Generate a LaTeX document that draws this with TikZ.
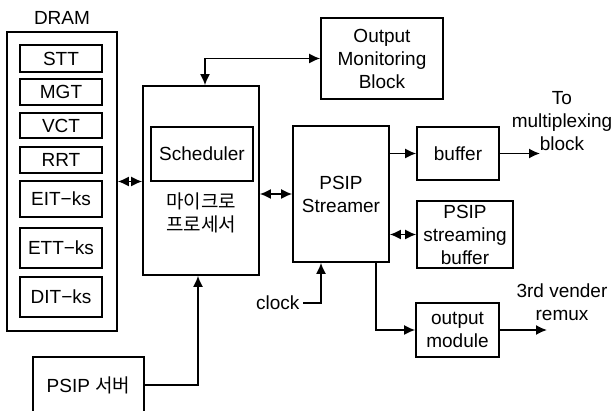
\documentclass[tikz,border=0pt]{standalone}
\usepackage{fontspec}
\setmainfont{Liberation Sans}
\newfontfamily\kor{Noto Sans CJK KR}
\usepackage{tikz}
\usetikzlibrary{arrows.meta,calc}
\tikzset{blk/.style={
    draw=black,
    line width=1.6pt,
    inner sep=0pt,
    align=center}}
\tikzset{tbl/.style={
    blk,
    minimum width=82pt}}
\tikzset{link/.style={
    line width=1.6pt,
    -{Latex[length=11pt,width=10pt]}}}
\tikzset{duplex/.style={
    line width=1.6pt,
    {Latex[length=11pt,width=10pt]}-{Latex[length=11pt,width=10pt]}}}

\begin{document}
\begin{tikzpicture}[x=1pt,y=-1pt,font=\fontsize{19}{23}\selectfont]
\useasboundingbox (0,0) rectangle (616,411);

% memory tables
\node (dramlabel) at (62,18) {DRAM};
\node[blk, minimum width=110pt, minimum height=299pt] (dram) at (62,181.5) {};
\node[tbl, minimum height=27pt] (stt) at (61,58.5) {STT};
\node[tbl, minimum height=26pt] (mgt) at (61,92) {MGT};
\node[tbl, minimum height=25pt] (vct) at (61,125.5) {VCT};
\node[tbl, minimum height=26pt] (rrt) at (61,160) {RRT};
\node[tbl, minimum height=36pt] (eit) at (61,199) {EIT−ks};
\node[tbl, minimum height=40pt] (ett) at (61,248) {ETT−ks};
\node[tbl, minimum height=40pt] (dit) at (61,297) {DIT−ks};

% processor
\node[blk, minimum width=116pt, minimum height=189pt] (micro) at (201,180.5) {};
\node[blk, minimum width=102pt, minimum height=54pt] (sched) at (202,154) {Scheduler};
\node[align=center] (microlabel) at (201,213) {\kor 마이크로\\\kor 프로세서};

\node[blk, minimum width=122pt, minimum height=81pt] (omb) at (382,58.5) {Output\\Monitoring\\Block};
\node[blk, minimum width=96pt, minimum height=136pt] (streamer) at (341,194) {PSIP\\Streamer};
\node[blk, minimum width=82pt, minimum height=53pt] (buffer) at (458,153.5) {buffer};
\node[blk, minimum width=96pt, minimum height=67pt] (psb) at (465,234.5) {PSIP\\streaming\\buffer};
\node[blk, minimum width=83pt, minimum height=54pt] (outmod) at (457.5,330) {output\\module};
\node[blk, minimum width=111pt, minimum height=56pt] (server) at (88.5,385) {PSIP {\kor 서버}};

\node[anchor=east] (clock) at (303,303) {clock};
\node[align=center] (muxlabel) at (562,121) {To\\multiplexing\\block};
\node[align=center] (remuxlabel) at (562,302) {3rd vender\\remux};
\coordinate (muxout) at (540,153.5);
\coordinate (remuxout) at (547,330);

\draw[duplex] (dram.east) -- (dram.east -| micro.west);
\draw[duplex] ([xshift=4pt]micro.north) |- (omb.west);
\draw[duplex] (streamer.west -| micro.east) -- (streamer.west);
\draw[link] (buffer.west -| streamer.east) -- (buffer.west);
\draw[link] (buffer.east) -- (muxout);
\draw[duplex] (psb.west -| streamer.east) -- (psb.west);
\draw[link] (clock.east) -| ([xshift=-20pt]streamer.south);
\draw[link] ([xshift=35pt]streamer.south) |- (outmod.west);
\draw[link] (outmod.east) -- (remuxout);
\draw[link] (server.east) -| ([xshift=-3pt]micro.south);
\end{tikzpicture}
\end{document}
